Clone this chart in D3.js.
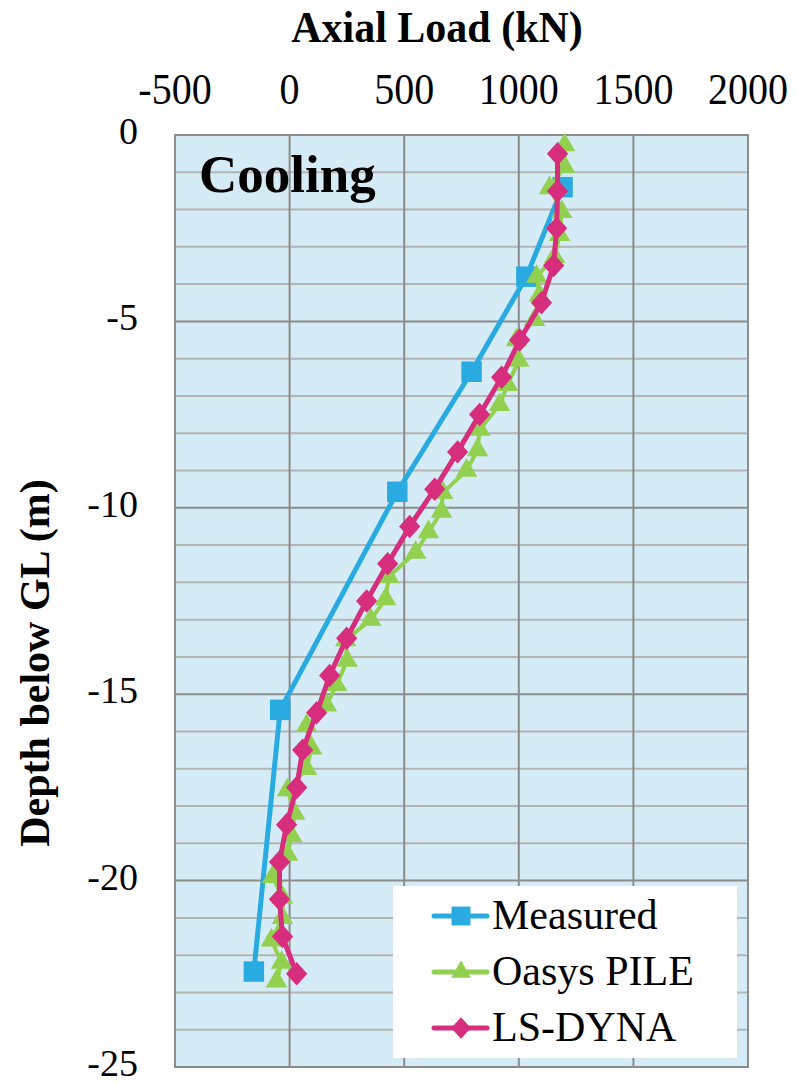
<!DOCTYPE html>
<html>
<head>
<meta charset="utf-8">
<script src="https://cdn.jsdelivr.net/npm/d3@7"></script>
<style>
  body { margin: 0; background: #fff; }
  text { font-family: "Liberation Serif", "Times New Roman", serif; fill: #000; }
</style>
</head>
<body>
<svg width="796" height="1085"></svg>
<script>
// measured strain-gauge loads
const measuredDepth = [-1.4, -3.8, -6.35, -9.57, -15.42, -22.44]
const measuredLoad = [1191, 1033, 794, 470, -41, -156]

// Oasys PILE output
const oasysDepth = [-0.27, -0.85, -1.42, -2.06, -2.68, -3.27, -3.8, -4.3, -4.96, -5.5,
  -6.05, -6.7, -7.24, -7.9, -8.45, -9.0, -9.6, -10.1, -10.65, -11.2,
  -11.85, -12.45, -13.0, -13.55, -14.1, -14.75, -15.3, -15.85, -16.45, -17.0,
  -17.57, -18.2, -18.8, -19.3, -19.9, -20.45, -21.0, -21.6, -22.2, -22.7]
const oasysLoad = [1200, 1200, 1134, 1187, 1178, 1156, 1078, 1090, 1069, 990,
  1000, 951, 916, 829, 820, 772, 668, 663, 606, 550,
  432, 419, 354, 245, 251, 205, 161, 74, 96, 74,
  -9, 22, 9, -9, -74, -31, -31, -79, -35, -57]

// LS-DYNA output
const dynaDepth = [-0.5, -1.5, -2.5, -3.5, -4.5, -5.5, -6.5, -7.5, -8.5, -9.5,
  -10.5, -11.5, -12.5, -13.5, -14.5, -15.5, -16.5, -17.5, -18.5, -19.5,
  -20.5, -21.5, -22.5]
const dynaLoad = [1169, 1169, 1165, 1152, 1099, 1004, 925, 829, 733, 633,
  524, 428, 336, 249, 175, 118, 57, 31, -13, -44,
  -44, -31, 31]

const xTicks = [-500, 0, 500, 1000, 1500, 2000]
const yTicks = [0, -5, -10, -15, -20, -25]
const yMinor = d3.range(0, -26, -1)

const seriesNames = ["Measured", "Oasys PILE", "LS-DYNA"]
const seriesColors = ["#29abe2", "#92d050", "#d62e7c"]

const svg = d3.select("svg")
const plotL = 175, plotR = 748, plotT = 135, plotB = 1067

const x = d3.scaleLinear().domain([-500, 2000]).range([plotL, plotR])
const y = d3.scaleLinear().domain([0, -25]).range([plotT, plotB])

// excel-like diamond, a bit taller than wide
const excelDiamond = {
  draw(ctx, size) {
    const w = Math.sqrt(size / 2) * 0.95, h = Math.sqrt(size / 2) * 1.05
    ctx.moveTo(0, -h)
    ctx.lineTo(w, 0)
    ctx.lineTo(0, h)
    ctx.lineTo(-w, 0)
    ctx.closePath()
  }
}

svg.append("rect")
  .attr("x", plotL).attr("y", plotT)
  .attr("width", plotR - plotL).attr("height", plotB - plotT)
  .attr("fill", "#d5ecf7")

// minor horizontal grid
svg.append("g").selectAll("line").data(yMinor.filter(d => d % 5 !== 0))
  .join("line")
  .attr("x1", plotL).attr("x2", plotR)
  .attr("y1", d => y(d)).attr("y2", d => y(d))
  .attr("stroke", "#b4b4b4").attr("stroke-width", 2)

// major grid
svg.append("g").selectAll("line").data(yTicks)
  .join("line")
  .attr("x1", plotL).attr("x2", plotR)
  .attr("y1", d => y(d)).attr("y2", d => y(d))
  .attr("stroke", "#8c8c8c").attr("stroke-width", 2)

svg.append("g").selectAll("line").data(xTicks)
  .join("line")
  .attr("x1", d => x(d)).attr("x2", d => x(d))
  .attr("y1", plotT).attr("y2", plotB)
  .attr("stroke", "#8c8c8c").attr("stroke-width", 2)

svg.append("rect")
  .attr("x", plotL).attr("y", plotT)
  .attr("width", plotR - plotL).attr("height", plotB - plotT)
  .attr("fill", "none").attr("stroke", "#8c8c8c").attr("stroke-width", 2)

// tick labels
svg.append("g").selectAll("text").data(xTicks)
  .join("text")
  .attr("transform", d => `translate(${x(d)},104) scale(1,1.1)`)
  .attr("text-anchor", "middle")
  .attr("font-size", 40)
  .text(d => d)

svg.append("g").selectAll("text").data(yTicks)
  .join("text")
  .attr("x", 138)
  .attr("y", d => y(d) + 9)
  .attr("text-anchor", "end")
  .attr("font-size", 38)
  .text(d => d)

svg.append("text")
  .attr("transform", "translate(437,42) scale(1,1.05)")
  .attr("text-anchor", "middle")
  .attr("font-size", 42)
  .attr("font-weight", "bold")
  .text("Axial Load (kN)")

svg.append("text")
  .attr("transform", "translate(49,663) rotate(-90)")
  .attr("text-anchor", "middle")
  .attr("font-size", 42)
  .attr("font-weight", "bold")
  .text("Depth below GL (m)")

svg.append("text")
  .attr("x", 199).attr("y", 192)
  .attr("font-size", 53)
  .attr("font-weight", "bold")
  .text("Cooling")

const series = [
  { pts: measuredLoad.map((v, i) => [v, measuredDepth[i]]), sym: d3.symbolSquare, size: 420, width: 5 },
  { pts: oasysLoad.map((v, i) => [v, oasysDepth[i]]), sym: d3.symbolTriangle, size: 200, width: 4 },
  { pts: dynaLoad.map((v, i) => [v, dynaDepth[i]]), sym: excelDiamond, size: 250, width: 5 },
]

const line = d3.line().x(d => x(d[0])).y(d => y(d[1]))

series.forEach((s, i) => {
  const g = svg.append("g")
  g.append("path")
    .attr("d", line(s.pts))
    .attr("fill", "none")
    .attr("stroke", seriesColors[i])
    .attr("stroke-width", s.width)
    .attr("stroke-linejoin", "round")
  g.selectAll("path.m").data(s.pts)
    .join("path")
    .attr("class", "m")
    .attr("transform", d => `translate(${x(d[0])},${y(d[1])})`)
    .attr("d", d3.symbol(s.sym, s.size))
    .attr("fill", seriesColors[i])
})

// legend
const legend = svg.append("g")
legend.append("rect")
  .attr("x", 393).attr("y", 886).attr("width", 344).attr("height", 172)
  .attr("fill", "#fff")

seriesNames.forEach((name, i) => {
  const ly = 916 + i * 56
  legend.append("line")
    .attr("x1", 434).attr("x2", 487).attr("y1", ly).attr("y2", ly)
    .attr("stroke", seriesColors[i]).attr("stroke-width", 5)
    .attr("stroke-linecap", "round")
  legend.append("path")
    .attr("transform", `translate(461,${ly})`)
    .attr("d", d3.symbol(series[i].sym, series[i].size * 0.85))
    .attr("fill", seriesColors[i])
  legend.append("text")
    .attr("x", 492).attr("y", ly + 13)
    .attr("font-size", 42)
    .text(name)
})
</script>
</body>
</html>
